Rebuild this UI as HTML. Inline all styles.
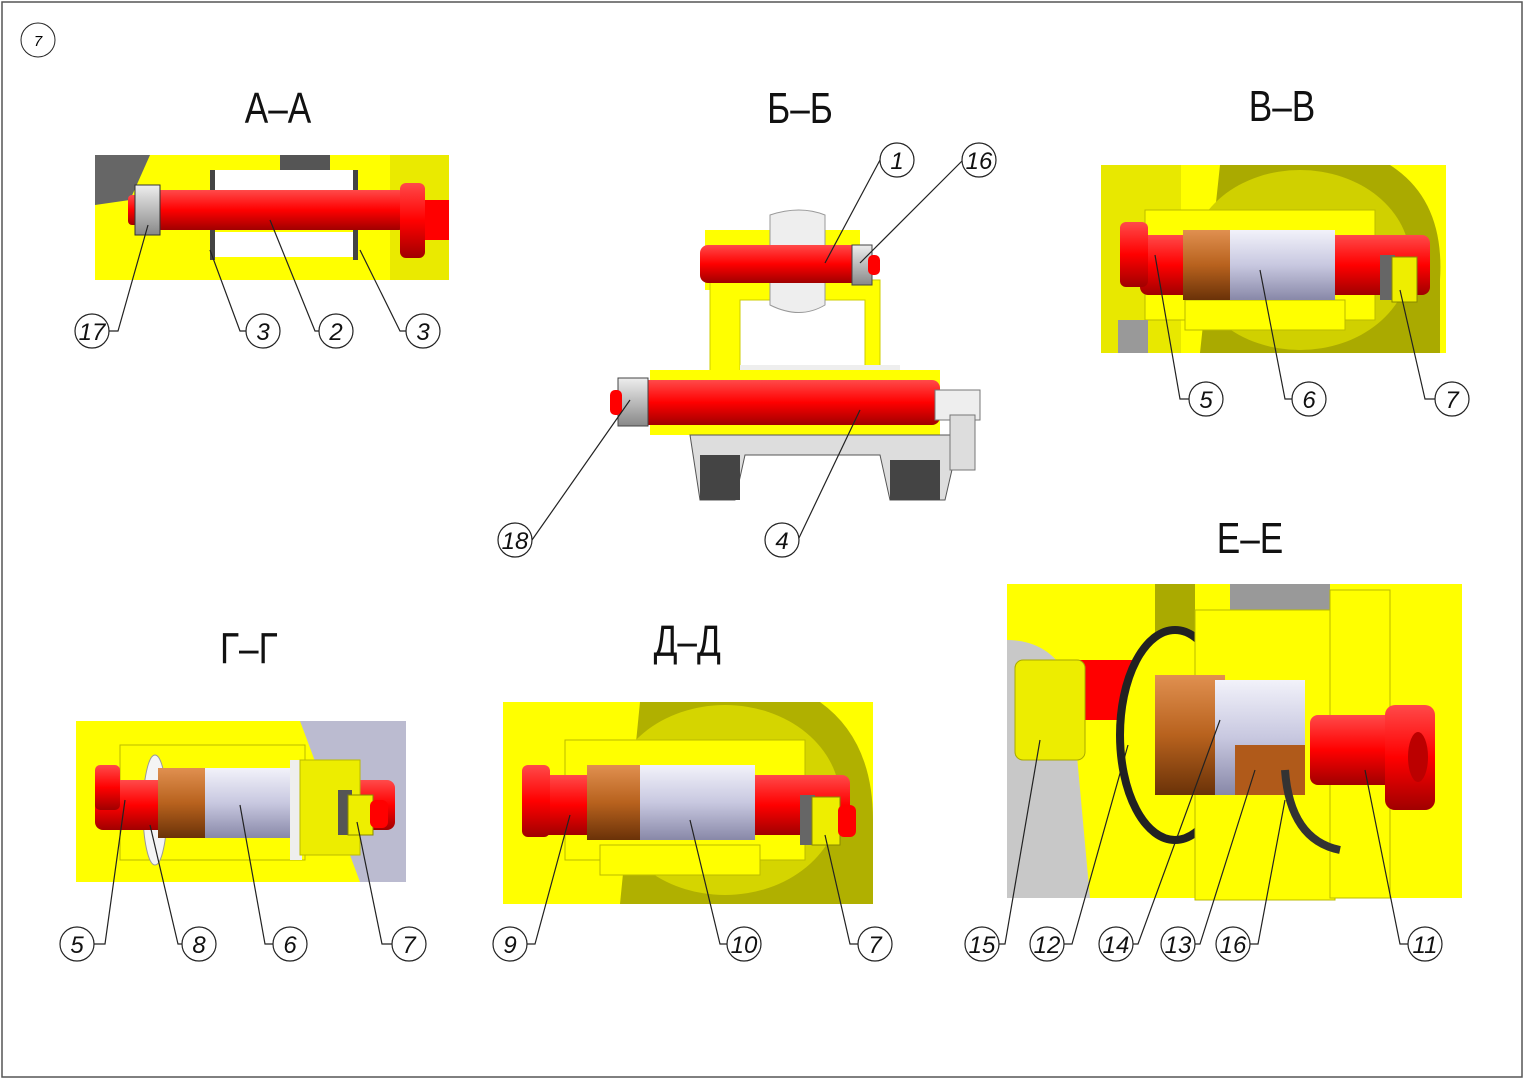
<!DOCTYPE html>
<html><head><meta charset="utf-8"><style>
html,body{margin:0;padding:0;background:#fff;}
svg{display:block;}
text{font-family:"Liberation Sans",sans-serif;}
</style></head><body>
<svg width="1525" height="1080" viewBox="0 0 1525 1080" xmlns="http://www.w3.org/2000/svg">
<defs>
<linearGradient id="red" x1="0" y1="0" x2="0" y2="1"><stop offset="0" stop-color="#ff4a4a"/><stop offset="0.5" stop-color="#ff0000"/><stop offset="1" stop-color="#a00000"/></linearGradient>
<linearGradient id="steel" x1="0" y1="0" x2="0" y2="1"><stop offset="0" stop-color="#f2f2fa"/><stop offset="0.5" stop-color="#c8c8e0"/><stop offset="1" stop-color="#8888a8"/></linearGradient>
<linearGradient id="bronze" x1="0" y1="0" x2="0" y2="1"><stop offset="0" stop-color="#e09050"/><stop offset="0.5" stop-color="#b8621e"/><stop offset="1" stop-color="#6a3208"/></linearGradient>
<linearGradient id="yel" x1="0" y1="0" x2="1" y2="1"><stop offset="0" stop-color="#ffff40"/><stop offset="1" stop-color="#d8d800"/></linearGradient>
<linearGradient id="nut" x1="0" y1="0" x2="0" y2="1"><stop offset="0" stop-color="#eee"/><stop offset="1" stop-color="#888"/></linearGradient>
</defs>
<rect x="2" y="2" width="1520" height="1075" fill="none" stroke="#555" stroke-width="1.5"/>
<circle cx="38" cy="40" r="17" fill="none" stroke="#222"/>
<text x="38" y="46" font-size="15" text-anchor="middle" font-style="italic">7</text>

<g font-size="44" text-anchor="middle" fill="#111" transform="">
<text x="278" y="123" transform="scale(0.8,1) translate(69.5,0)">А–А</text>
<text x="800" y="123" transform="scale(0.8,1) translate(200,0)">Б–Б</text>
<text x="1282" y="121" transform="scale(0.8,1) translate(320.5,0)">В–В</text>
<text x="1250" y="553" transform="scale(0.8,1) translate(312.5,0)">Е–Е</text>
<text x="249" y="663" transform="scale(0.8,1) translate(62,0)">Г–Г</text>
<text x="687" y="656" transform="scale(0.8,1) translate(172,0)">Д–Д</text>
</g>

<!-- A-A -->
<g>
<rect x="95" y="155" width="354" height="125" fill="#ffff00"/>
<path d="M95 155 L150 155 L130 200 L95 205Z" fill="#666"/>
<rect x="280" y="155" width="50" height="30" fill="#555"/>
<rect x="390" y="155" width="59" height="125" fill="#eaea00"/>
<rect x="420" y="200" width="29" height="40" fill="#ff0000"/>
<rect x="215" y="170" width="140" height="22" fill="#fff"/>
<rect x="215" y="232" width="140" height="25" fill="#fff"/>
<rect x="210" y="170" width="5" height="90" fill="#444"/>
<rect x="353" y="170" width="5" height="90" fill="#444"/>
<rect x="155" y="190" width="250" height="40" rx="6" fill="url(#red)"/>
<rect x="400" y="183" width="25" height="75" rx="6" fill="url(#red)"/>
<rect x="128" y="195" width="12" height="30" rx="4" fill="url(#red)"/>
<rect x="135" y="185" width="25" height="50" fill="url(#nut)" stroke="#333"/>
</g>

<!-- Б-Б -->
<g>
<rect x="705" y="230" width="155" height="60" fill="#ffff00"/>
<path d="M710 280 L880 280 L880 380 L865 380 L865 300 L740 300 L740 380 L710 380Z" fill="#ffff00" stroke="#cc0" />
<path d="M770 215 q30 -10 55 0 v90 q-25 15 -55 0Z" fill="#eee" stroke="#999"/>
<rect x="700" y="245" width="170" height="38" rx="8" fill="url(#red)"/>
<rect x="852" y="245" width="20" height="40" fill="url(#nut)" stroke="#444"/>
<rect x="868" y="255" width="12" height="20" rx="5" fill="#f00"/>
<rect x="740" y="365" width="160" height="20" fill="#eee"/>
<rect x="650" y="370" width="290" height="65" fill="#ffff00"/>
<path d="M690 435 L960 435 L945 500 L890 500 L880 455 L745 455 L735 500 L700 500Z" fill="#ddd" stroke="#555"/>
<rect x="700" y="455" width="40" height="45" fill="#444"/>
<rect x="890" y="460" width="50" height="40" fill="#444"/>
<rect x="640" y="380" width="300" height="45" rx="8" fill="url(#red)"/>
<rect x="935" y="390" width="45" height="30" fill="#eee" stroke="#777"/>
<rect x="950" y="415" width="25" height="55" fill="#ddd" stroke="#777"/>
<rect x="618" y="378" width="30" height="48" fill="url(#nut)" stroke="#444"/>
<rect x="610" y="390" width="12" height="25" rx="5" fill="#f00"/>
</g>

<!-- В-В -->
<g>
<rect x="1101" y="165" width="345" height="188" fill="#ffff00"/>
<rect x="1101" y="165" width="80" height="188" fill="#e8e800"/>
<path d="M1220 165 L1390 165 Q1445 200 1440 280 L1440 353 L1200 353Z" fill="#aaaa00"/>
<ellipse cx="1300" cy="260" rx="110" ry="90" fill="#d0d000"/>
<rect x="1145" y="210" width="230" height="110" fill="#ffff00" stroke="#bb0"/>
<rect x="1185" y="300" width="160" height="30" fill="#ffff00" stroke="#bb0"/>
<rect x="1140" y="235" width="290" height="60" rx="8" fill="url(#red)"/>
<rect x="1120" y="222" width="28" height="65" rx="6" fill="url(#red)"/>
<rect x="1183" y="230" width="50" height="70" fill="url(#bronze)"/>
<rect x="1230" y="230" width="105" height="70" fill="url(#steel)"/>
<rect x="1380" y="255" width="15" height="45" fill="#666"/>
<rect x="1392" y="257" width="25" height="45" fill="#ee0" stroke="#880"/>
<rect x="1118" y="320" width="30" height="33" fill="#999"/>
</g>

<!-- Г-Г -->
<g>
<rect x="76" y="721" width="330" height="161" fill="#ffff00"/>
<path d="M300 721 L406 721 L406 882 L360 882Z" fill="#bbbbd0"/>
<rect x="120" y="745" width="185" height="115" fill="#ffff00" stroke="#bb0"/>
<ellipse cx="155" cy="810" rx="12" ry="55" fill="#f4f4f4" stroke="#999"/>
<rect x="95" y="780" width="300" height="50" rx="8" fill="url(#red)"/>
<rect x="95" y="765" width="25" height="45" rx="5" fill="url(#red)"/>
<rect x="158" y="768" width="50" height="70" fill="url(#bronze)"/>
<rect x="205" y="768" width="95" height="70" fill="url(#steel)"/>
<rect x="290" y="760" width="12" height="100" fill="#eee"/>
<rect x="300" y="760" width="60" height="95" fill="#eded00" stroke="#bb0"/>
<rect x="338" y="790" width="14" height="45" fill="#555"/>
<rect x="348" y="795" width="25" height="40" fill="#ee0" stroke="#880"/>
<rect x="370" y="800" width="18" height="28" rx="6" fill="#f00"/>
</g>

<!-- Д-Д -->
<g>
<rect x="503" y="702" width="370" height="202" fill="#ffff00"/>
<path d="M640 702 L820 702 Q873 740 873 820 L873 904 L620 904Z" fill="#b0b000"/>
<ellipse cx="725" cy="800" rx="115" ry="95" fill="#d5d500"/>
<rect x="565" y="740" width="240" height="120" fill="#ffff00" stroke="#bb0"/>
<rect x="600" y="845" width="160" height="30" fill="#ffff00" stroke="#bb0"/>
<rect x="540" y="775" width="310" height="60" rx="8" fill="url(#red)"/>
<rect x="522" y="765" width="28" height="72" rx="6" fill="url(#red)"/>
<rect x="587" y="765" width="55" height="75" fill="url(#bronze)"/>
<rect x="640" y="765" width="115" height="75" fill="url(#steel)"/>
<rect x="800" y="795" width="15" height="50" fill="#666"/>
<rect x="812" y="797" width="28" height="48" fill="#ee0" stroke="#880"/>
<rect x="838" y="805" width="18" height="32" rx="6" fill="#f00"/>
</g>

<!-- Е-Е -->
<g>
<rect x="1007" y="584" width="455" height="314" fill="#ffff00"/>
<path d="M1007 640 Q1050 640 1070 680 L1090 898 L1007 898Z" fill="#c8c8c8"/>
<rect x="1155" y="584" width="40" height="90" fill="#aaaa00"/>
<rect x="1230" y="584" width="100" height="40" fill="#999"/>
<rect x="1080" y="660" width="60" height="60" fill="#ff0000"/>
<rect x="1015" y="660" width="70" height="100" rx="8" fill="#eded00" stroke="#aa0"/>
<ellipse cx="1175" cy="735" rx="55" ry="105" fill="#ffff00" stroke="#222" stroke-width="8"/>
<rect x="1195" y="610" width="140" height="290" fill="#ffff00" stroke="#bb0"/>
<rect x="1330" y="590" width="60" height="308" fill="#ffff00" stroke="#bb0"/>
<rect x="1155" y="675" width="70" height="120" fill="url(#bronze)"/>
<rect x="1215" y="680" width="90" height="115" fill="url(#steel)"/>
<rect x="1235" y="745" width="70" height="50" fill="#b05a1a"/>
<path d="M1285 770 Q1290 840 1340 850" fill="none" stroke="#333" stroke-width="8"/>
<rect x="1310" y="715" width="90" height="70" rx="8" fill="url(#red)"/>
<rect x="1385" y="705" width="50" height="105" rx="10" fill="url(#red)"/>
<ellipse cx="1418" cy="757" rx="10" ry="25" fill="#b00"/>
</g>

<!-- leaders and callouts -->
<g fill="none" stroke="#222" stroke-width="1.2">
<path d="M148 225 L118 331 L108 331"/>
<path d="M210 250 L240 331 L247 331"/>
<path d="M270 220 L315 331 L320 331"/>
<path d="M360 250 L400 331 L406 331"/>
<path d="M825 263 L880 160"/>
<path d="M860 263 L963 160"/>
<path d="M630 400 L532 540"/>
<path d="M860 410 L798 540"/>
<path d="M1155 255 L1180 399 L1189 399"/>
<path d="M1260 270 L1285 399 L1292 399"/>
<path d="M1400 290 L1425 399 L1435 399"/>
<path d="M125 800 L105 944 L94 944"/>
<path d="M150 825 L178 944 L182 944"/>
<path d="M240 805 L265 944 L273 944"/>
<path d="M357 822 L382 944 L392 944"/>
<path d="M570 815 L535 944 L527 944"/>
<path d="M690 820 L720 944 L727 944"/>
<path d="M825 835 L850 944 L858 944"/>
<path d="M1040 740 L1005 944 L999 944"/>
<path d="M1128 745 L1072 944 L1064 944"/>
<path d="M1220 720 L1138 944 L1133 944"/>
<path d="M1255 770 L1200 944 L1195 944"/>
<path d="M1285 800 L1258 944 L1250 944"/>
<path d="M1365 770 L1400 944 L1408 944"/>
</g>
<g fill="#fff" stroke="#222" stroke-width="1.2">
<circle cx="92" cy="331" r="17"/><circle cx="263" cy="331" r="17"/><circle cx="336" cy="331" r="17"/><circle cx="423" cy="331" r="17"/>
<circle cx="897" cy="160" r="17"/><circle cx="979" cy="160" r="17"/><circle cx="515" cy="540" r="17"/><circle cx="782" cy="540" r="17"/>
<circle cx="1206" cy="399" r="17"/><circle cx="1309" cy="399" r="17"/><circle cx="1452" cy="399" r="17"/>
<circle cx="77" cy="944" r="17"/><circle cx="199" cy="944" r="17"/><circle cx="290" cy="944" r="17"/><circle cx="409" cy="944" r="17"/>
<circle cx="510" cy="944" r="17"/><circle cx="744" cy="944" r="17"/><circle cx="875" cy="944" r="17"/>
<circle cx="982" cy="944" r="17"/><circle cx="1047" cy="944" r="17"/><circle cx="1116" cy="944" r="17"/><circle cx="1178" cy="944" r="17"/><circle cx="1233" cy="944" r="17"/><circle cx="1425" cy="944" r="17"/>
</g>
<g font-size="24" font-style="italic" text-anchor="middle" fill="#111">
<text x="92" y="340">17</text><text x="263" y="340">3</text><text x="336" y="340">2</text><text x="423" y="340">3</text>
<text x="897" y="169">1</text><text x="979" y="169">16</text><text x="515" y="549">18</text><text x="782" y="549">4</text>
<text x="1206" y="408">5</text><text x="1309" y="408">6</text><text x="1452" y="408">7</text>
<text x="77" y="953">5</text><text x="199" y="953">8</text><text x="290" y="953">6</text><text x="409" y="953">7</text>
<text x="510" y="953">9</text><text x="744" y="953">10</text><text x="875" y="953">7</text>
<text x="982" y="953">15</text><text x="1047" y="953">12</text><text x="1116" y="953">14</text><text x="1178" y="953">13</text><text x="1233" y="953">16</text><text x="1425" y="953">11</text>
</g>
</svg>
</body></html>
